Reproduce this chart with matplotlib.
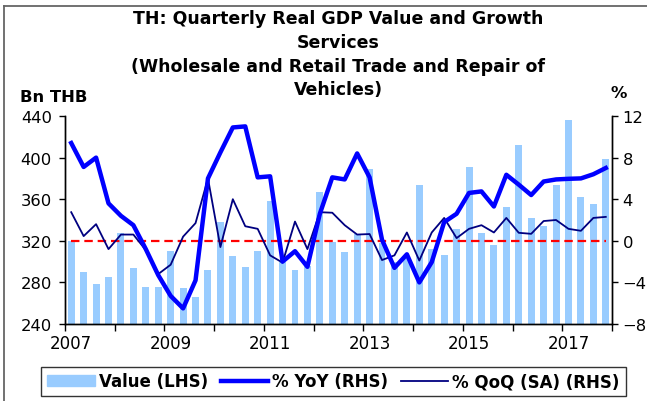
import matplotlib
matplotlib.use("Agg")
from matplotlib import pyplot as plt
from matplotlib.patches import Rectangle
from matplotlib.lines import Line2D
import numpy as np

plt.rcParams['font.family'] = ['DejaVu Sans']

# quarterly data 2007Q1 .. 2017Q4
value = [320, 290, 278, 285,
         327.5, 294, 276, 276,
         310.5, 275, 265.6, 292,
         337.8, 305, 295, 310,
         358.6, 300, 292, 296,
         367, 318.5, 309, 326.5,
         389, 318, 300, 305,
         373.6, 312, 306, 331.6,
         390.6, 327.5, 316.3, 352.5,
         412, 342, 334, 373.3,
         436.5, 362, 355.7, 399]
yoy = [9.4, 7.1, 8.0, 3.6,
       2.4, 1.5, -0.8, -3.3,
       -5.3, -6.5, -3.8, 6.0,
       8.5, 10.9, 11.0, 6.1,
       6.2, -2.0, -1.0, -2.5,
       2.6, 6.1, 5.9, 8.4,
       6.1, 0.1, -2.6, -1.3,
       -4.0, -2.05, 1.8, 2.6,
       4.6, 4.75, 3.3, 6.35,
       5.4, 4.4, 5.7, 5.9,
       5.96, 6.0, 6.4, 7.0]
qoq = [2.75, 0.45, 1.6, -0.8,
       0.6, 0.6, -0.9, -3.2,
       -2.3, 0.4, 1.7, 6.0,
       -0.6, 4.0, 1.4, 1.15,
       -1.4, -2.1, 1.85, -0.8,
       2.75, 2.7, 1.5, 0.6,
       0.65, -1.85, -1.4, 0.8,
       -1.9, 0.8, 2.2, 0.26,
       1.15, 1.5, 0.8, 2.2,
       0.77, 0.67, 1.9, 2.0,
       1.15, 0.96, 2.2, 2.3]
zero_line = [0] * len(value)
years = list(range(2007, 2019))
title_lines = ["TH: Quarterly Real GDP Value and Growth",
               "Services",
               "(Wholesale and Retail Trade and Repair of",
               "Vehicles)"]

x = np.arange(len(value)) + 0.5

fig = plt.figure(figsize=(6.47, 4.02), dpi=100)
ax = fig.add_axes([65/647, 1-325/402, (612-65)/647, (325-117)/402])
ax2 = ax.twinx()

ax.bar(x, value, width=0.56, color='#99CCFF', zorder=1)
ax.set_ylim(240, 440)
ax.set_yticks(range(240, 441, 40))
ax.set_xlim(0, len(value))

ax2.plot(x, zero_line, color='#FF0000', lw=1.6, ls=(0, (3.8, 2.2)))
ax2.plot(x, qoq, color='#000080', lw=1.3)
ax2.plot(x, yoy, color='#0000FF', lw=3.2)
ax2.set_ylim(-8, 12)
ax2.set_yticks(range(-8, 13, 4))

# year boundaries as ticks, labels under first quarter of odd years
ax.set_xticks([4*i for i in range(len(years))])
ax.set_xticklabels([])
ax.set_xticks([4*i + 0.5 for i in range(0, len(years)-1, 2)], minor=True)
ax.set_xticklabels([str(y) for y in years[:-1:2]], minor=True)
ax.tick_params(axis='x', which='minor', length=0, pad=7, labelsize=12)
ax.tick_params(axis='x', which='major', length=5, width=1, direction='out')
ax.tick_params(axis='y', length=4.5, width=1, direction='out', labelsize=11.8, pad=5)
ax2.tick_params(axis='y', length=4.5, width=1, direction='out', labelsize=11.8, pad=3)

for a in (ax, ax2):
    a.spines['top'].set_visible(False)
    for s in ('left', 'right', 'bottom'):
        a.spines[s].set_linewidth(1)
        a.spines[s].set_color('black')

for i, line in enumerate(title_lines):
    fig.text(338/647, 1-(19.5 + 23.5*i)/402, line, ha='center', va='center',
             fontsize=12.5, fontweight='bold')
fig.text(20/647, 1-98/402, "Bn THB", ha='left', va='center', fontsize=11.8, fontweight='bold')
fig.text(619/647, 1-93/402, "%", ha='center', va='center', fontsize=11.8, fontweight='bold')

handles = [Rectangle((0, 0), 1, 1, color='#99CCFF'),
           Line2D([], [], color='#0000FF', lw=3.2),
           Line2D([], [], color='#000080', lw=1.3)]
labels = ["Value (LHS)", "% YoY (RHS)", "% QoQ (SA) (RHS)"]
leg = fig.legend(handles, labels, loc='center', bbox_to_anchor=(333.5/647, 1-382.5/402),
                 ncol=3, frameon=True, fancybox=False, edgecolor='black',
                 prop={'weight': 'bold', 'size': 12}, handlelength=2.85,
                 handleheight=0.6, handletextpad=0.25, columnspacing=0.75,
                 borderpad=0.35, borderaxespad=0)
leg.get_frame().set_linewidth(1)

# outer border (top and left visible)
fig.add_artist(Line2D([4/647, 4/647], [0, 1-6.5/402], color='#666666', lw=1.3,
                      transform=fig.transFigure))
fig.add_artist(Line2D([4/647, 1], [1-6.5/402, 1-6.5/402], color='#666666', lw=1.3,
                      transform=fig.transFigure))

fig.savefig("out.png", dpi=100)
